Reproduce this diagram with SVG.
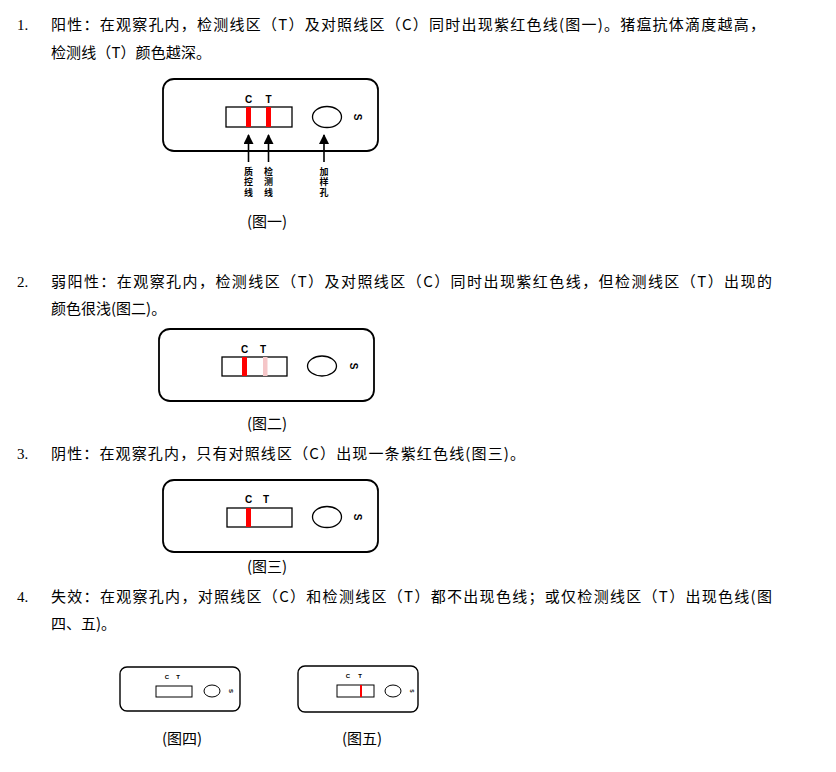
<svg xmlns="http://www.w3.org/2000/svg" width="836" height="772" viewBox="0 0 836 772">
<style>
.t{font-family:"Noto Sans CJK SC","Noto Sans",sans-serif;font-size:15px;fill:#000}
.n{font-family:"Liberation Serif",serif;font-size:15px;fill:#000}
.cap{font-family:"Noto Sans CJK SC","Noto Sans",sans-serif;font-size:15px;fill:#000;text-anchor:middle}
.card{fill:#fff;stroke:#000;stroke-width:1.8}
.win{fill:#fff;stroke:#000;stroke-width:1.3}
.hole{fill:#fff;stroke:#000;stroke-width:1.3}
.lbl{font-family:"Liberation Sans",Arial,sans-serif;font-weight:bold;font-size:10px;fill:#000;text-anchor:middle}
.lbls{font-family:"Liberation Sans",Arial,sans-serif;font-weight:bold;font-size:6px;fill:#000;text-anchor:middle}
.vl{font-family:"Noto Sans CJK SC",sans-serif;font-weight:bold;font-size:9px;fill:#000;writing-mode:vertical-rl;letter-spacing:1.3px}
.arr{stroke:#000;stroke-width:1.6;fill:none}
</style>
<defs>
<marker id="ah" viewBox="0 0 10 10" refX="9" refY="5" markerWidth="10" markerHeight="10" markerUnits="userSpaceOnUse" orient="auto">
<path d="M0,0 L10,5 L0,10 Z" fill="#000"/>
</marker>
</defs>

<g id="text">
<text class="n" x="17" y="30">1.</text>
<text class="t" x="51" y="30" textLength="714" lengthAdjust="spacing">阳性：在观察孔内，检测线区（T）及对照线区（C）同时出现紫红色线(图一)。猪瘟抗体滴度越高，</text>
<text class="t" x="51" y="58" textLength="160" lengthAdjust="spacing">检测线（T）颜色越深。</text>
<text class="n" x="17" y="287">2.</text>
<text class="t" x="51" y="287" textLength="721" lengthAdjust="spacing">弱阳性：在观察孔内，检测线区（T）及对照线区（C）同时出现紫红色线，但检测线区（T）出现的</text>
<text class="t" x="51" y="314">颜色很浅(图二)。</text>
<text class="n" x="17" y="459">3.</text>
<text class="t" x="51" y="459" textLength="474" lengthAdjust="spacing">阴性：在观察孔内，只有对照线区（C）出现一条紫红色线(图三)。</text>
<text class="n" x="17" y="602">4.</text>
<text class="t" x="51" y="602" textLength="721" lengthAdjust="spacing">失效：在观察孔内，对照线区（C）和检测线区（T）都不出现色线；或仅检测线区（T）出现色线(图</text>
<text class="t" x="51" y="629">四、五)。</text>
</g>

<g id="fig1">
<rect class="card" x="163" y="79" width="215" height="72" rx="11"/>
<rect class="win" x="226" y="107" width="66" height="20"/>
<rect x="246" y="107" width="5" height="20" fill="#ff0000"/>
<rect x="266" y="107" width="5" height="20" fill="#ff0000"/>
<text class="lbl" x="248.5" y="103">C</text>
<text class="lbl" x="268.5" y="103">T</text>
<ellipse class="hole" cx="327" cy="117" rx="14.5" ry="10.5"/>
<text class="lbl" transform="translate(354,117) rotate(90)">S</text>
<text class="vl" x="248.5" y="167">质控线</text>
<text class="vl" x="268.5" y="167">检测线</text>
<text class="vl" x="324" y="167">加样孔</text>
<text class="cap" x="267" y="227">(图一)</text>
</g>

<g id="connectors">
<line class="arr" x1="248.5" y1="162" x2="248.5" y2="135" marker-end="url(#ah)"/>
<line class="arr" x1="268.5" y1="162" x2="268.5" y2="135" marker-end="url(#ah)"/>
<line class="arr" x1="324" y1="162" x2="324" y2="135" marker-end="url(#ah)"/>
</g>

<g id="fig2">
<rect class="card" x="159" y="329" width="215" height="72" rx="11"/>
<rect class="win" x="222" y="357" width="65" height="19"/>
<rect x="242" y="357" width="5" height="19" fill="#ff0000"/>
<rect x="263" y="357" width="4.5" height="19" fill="#f5c6c8"/>
<text class="lbl" x="244.5" y="353">C</text>
<text class="lbl" x="263" y="353">T</text>
<ellipse class="hole" cx="322" cy="366" rx="14.5" ry="10"/>
<text class="lbl" transform="translate(350,366) rotate(90)">S</text>
<text class="cap" x="267" y="429">(图二)</text>
</g>

<g id="fig3">
<rect class="card" x="163" y="480" width="215" height="72" rx="11"/>
<rect class="win" x="227" y="508" width="65" height="19"/>
<rect x="246" y="508" width="5" height="19" fill="#ff0000"/>
<text class="lbl" x="248.5" y="503">C</text>
<text class="lbl" x="266" y="503">T</text>
<ellipse class="hole" cx="327" cy="517" rx="14.5" ry="10.5"/>
<text class="lbl" transform="translate(354,517) rotate(90)">S</text>
<text class="cap" x="267" y="572">(图三)</text>
</g>

<g id="fig4">
<rect class="card" x="120" y="667" width="120" height="44" rx="7" style="stroke-width:1.4"/>
<rect class="win" x="156" y="686" width="36" height="11" style="stroke-width:1"/>
<text class="lbls" x="167" y="679">C</text>
<text class="lbls" x="178" y="679">T</text>
<ellipse class="hole" cx="212" cy="691" rx="8" ry="6" style="stroke-width:1"/>
<text class="lbls" transform="translate(229,691) rotate(90)">S</text>
<text class="cap" x="182" y="744">(图四)</text>
</g>

<g id="fig5">
<rect class="card" x="298" y="666" width="120" height="46" rx="7" style="stroke-width:1.4"/>
<rect class="win" x="337" y="685" width="37" height="12" style="stroke-width:1"/>
<rect x="360" y="685" width="2" height="12" fill="#ff0000"/>
<text class="lbls" x="348" y="678">C</text>
<text class="lbls" x="360" y="678">T</text>
<ellipse class="hole" cx="393" cy="691" rx="8" ry="6" style="stroke-width:1"/>
<text class="lbls" transform="translate(410,691) rotate(90)" style="font-size:5px">S</text>
<text class="cap" x="362" y="744">(图五)</text>
</g>
</svg>
